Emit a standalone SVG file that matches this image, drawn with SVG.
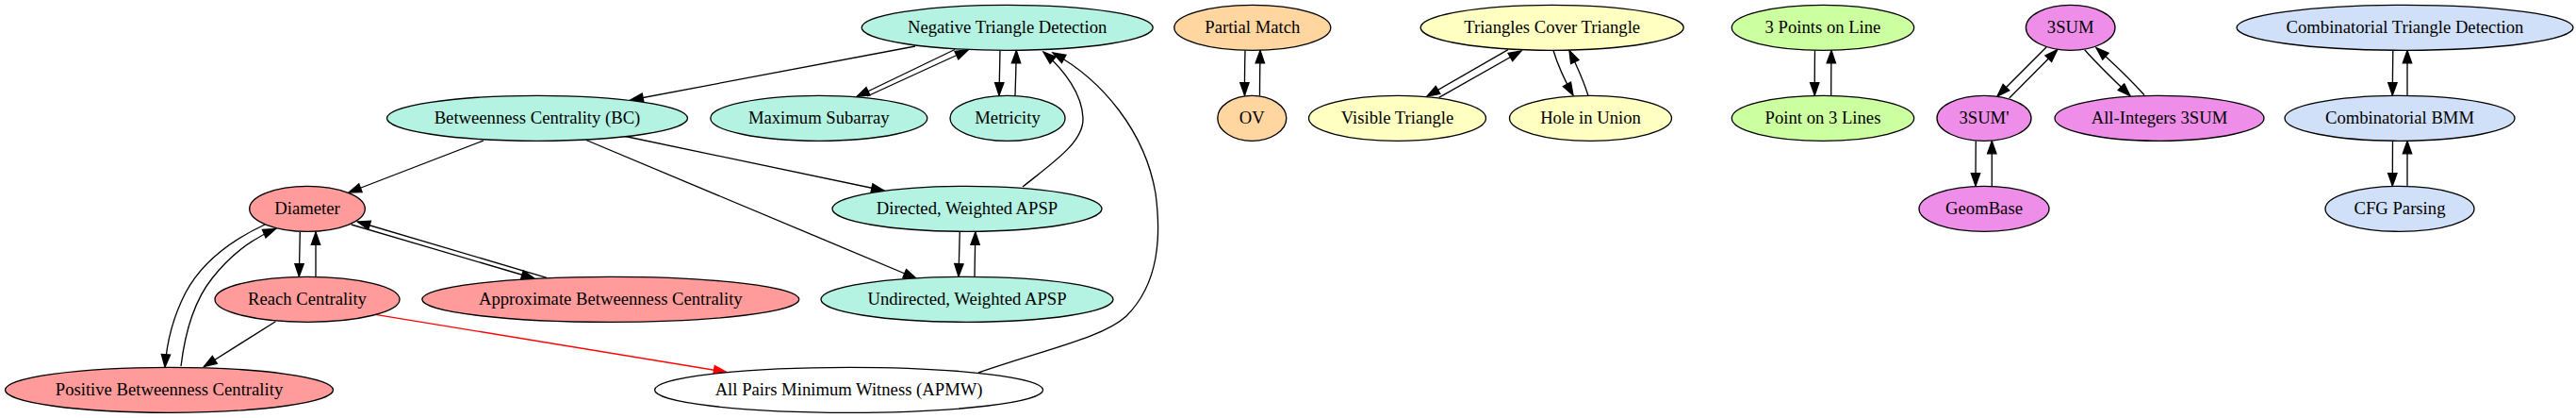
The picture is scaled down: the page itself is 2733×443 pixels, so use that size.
<svg xmlns="http://www.w3.org/2000/svg" width="2733" height="443" viewBox="0 0 2733 443">
<style>
.n ellipse{stroke:#000;stroke-width:1.33}
.n text{font-family:"Liberation Serif","Times New Roman",serif;font-size:18.67px;text-anchor:middle;fill:#000}
.teal ellipse{fill:#b4f2e1}
.pink ellipse{fill:#ff9b9b}
.orange ellipse{fill:#ffd5a0}
.yellow ellipse{fill:#ffffc2}
.green ellipse{fill:#ccff9f}
.violet ellipse{fill:#ee8ee8}
.blue ellipse{fill:#d0e0f9}
.white ellipse{fill:#fff}
.e path{fill:none;stroke:#000;stroke-width:1.33;marker-end:url(#ah)}
.e path.red{stroke:#ff0000;marker-end:url(#ahr)}
</style>
<defs>
<marker id="ah" markerUnits="userSpaceOnUse" markerWidth="16" markerHeight="12" refX="13.33" refY="4.67" orient="auto" overflow="visible">
<path d="M0,0 L13.33,4.67 L0,9.33 Z" fill="#000" stroke="#000" stroke-width="1.33"/>
</marker>
<marker id="ahr" markerUnits="userSpaceOnUse" markerWidth="16" markerHeight="12" refX="13.33" refY="4.67" orient="auto" overflow="visible">
<path d="M0,0 L13.33,4.67 L0,9.33 Z" fill="#ff0000" stroke="#ff0000" stroke-width="1.33"/>
</marker>
</defs>
<rect width="2733" height="443" fill="#fff"/>
<g id="edges" class="e">
<path d="M971,49 L669,106"/>
<path d="M1013,52.5 L909,102.5"/>
<path d="M920,102 L1027,53"/>
<path d="M1061,53.5 C1060.7,70 1060.3,85 1060,101"/>
<path d="M1077,101.5 C1077.5,85 1078,70 1078.3,53.5"/>
<path d="M1085,198 C1120,170 1150,150 1149,125 C1148,100 1130,75 1107,55"/>
<path d="M1038,395 C1110,370 1170,358 1195,335 C1230,300 1232,250 1226,205 C1215,140 1170,85 1117,56"/>
<path d="M661,144 L938,202"/>
<path d="M622,148.5 L972,295"/>
<path d="M1018.3,245.5 C1018,260 1017.5,275 1017,293"/>
<path d="M1034,293 C1034.3,278 1034.6,262 1034.8,246"/>
<path d="M513,149 L370,204"/>
<path d="M318.3,246 C318,260 317.6,276 317.3,293"/>
<path d="M335,293 C335,278 335,262 335,246"/>
<path d="M372.7,238 L566.7,295"/>
<path d="M580,294.3 L379.3,235"/>
<path d="M281,238 C238,258 212,282 197,310 C184,335 177,362 175,389"/>
<path d="M192,388 C196,355 205,320 225,295 C243,272 265,254 292.5,242.5"/>
<path d="M292.4,340.7 L216.5,388.5"/>
<path class="red" d="M398.3,333.3 L770.7,394.3"/>
<path d="M1321,53.5 C1320.6,70 1320.4,85 1320.5,101"/>
<path d="M1336.5,101.5 C1336.5,85 1336.8,70 1337,53.5"/>
<path d="M1600,52.7 L1514,102"/>
<path d="M1526.7,103.3 L1614,54"/>
<path d="M1648,53.5 C1653,70 1660,85 1669,101"/>
<path d="M1685,101.5 C1680,85 1673,70 1665,53.5"/>
<path d="M1925.5,53.5 C1925.3,70 1925.2,85 1925.3,101"/>
<path d="M1942.7,101.5 C1942.7,85 1942.8,70 1943,53.5"/>
<path d="M2171,50 L2119,102"/>
<path d="M2131.7,104 L2182.7,52.7"/>
<path d="M2211.7,52.7 C2225,68 2243,85 2260,101.5"/>
<path d="M2275,100.7 C2260,84 2241,66 2224,50.7"/>
<path d="M2096.3,149.5 C2096.1,165 2096,180 2096,197"/>
<path d="M2113.3,197.5 C2113.3,182 2113.3,166 2113.3,149.5"/>
<path d="M2538.8,53.5 C2538.6,70 2538.4,85 2538.3,101"/>
<path d="M2554,101.5 C2554,85 2554,70 2554,53.5"/>
<path d="M2538.5,149.5 C2538.4,165 2538.3,180 2538.3,197"/>
<path d="M2554,197.5 C2554,182 2554,166 2554,149.5"/>
</g>
<g id="n-ntd" class="n teal"><ellipse cx="1068.7" cy="29.3" rx="154.5" ry="24"/><text x="1068.7" y="34.9">Negative Triangle Detection</text></g>
<g id="n-pm" class="n orange"><ellipse cx="1328.8" cy="29.3" rx="83" ry="24"/><text x="1328.8" y="34.9">Partial Match</text></g>
<g id="n-tct" class="n yellow"><ellipse cx="1646.7" cy="29.3" rx="139.5" ry="24"/><text x="1646.7" y="34.9">Triangles Cover Triangle</text></g>
<g id="n-3pl" class="n green"><ellipse cx="1934" cy="29.3" rx="96.7" ry="24"/><text x="1934" y="34.9">3 Points on Line</text></g>
<g id="n-3sum" class="n violet"><ellipse cx="2196.7" cy="29.3" rx="47.3" ry="24"/><text x="2196.7" y="34.9">3SUM</text></g>
<g id="n-ctd" class="n blue"><ellipse cx="2551.5" cy="29.3" rx="178.5" ry="24"/><text x="2551.5" y="34.9">Combinatorial Triangle Detection</text></g>
<g id="n-bc" class="n teal"><ellipse cx="570" cy="125.3" rx="159.5" ry="24"/><text x="570" y="130.9">Betweenness Centrality (BC)</text></g>
<g id="n-ms" class="n teal"><ellipse cx="868.8" cy="125.3" rx="115" ry="24"/><text x="868.8" y="130.9">Maximum Subarray</text></g>
<g id="n-met" class="n teal"><ellipse cx="1069" cy="125.3" rx="61" ry="24"/><text x="1069" y="130.9">Metricity</text></g>
<g id="n-ov" class="n orange"><ellipse cx="1328.3" cy="125.3" rx="36.5" ry="24"/><text x="1328.3" y="130.9">OV</text></g>
<g id="n-vt" class="n yellow"><ellipse cx="1482.5" cy="125.3" rx="94" ry="24"/><text x="1482.5" y="130.9">Visible Triangle</text></g>
<g id="n-hu" class="n yellow"><ellipse cx="1687.5" cy="125.3" rx="86" ry="24"/><text x="1687.5" y="130.9">Hole in Union</text></g>
<g id="n-p3l" class="n green"><ellipse cx="1934" cy="125.3" rx="96.7" ry="24"/><text x="1934" y="130.9">Point on 3 Lines</text></g>
<g id="n-3sump" class="n violet"><ellipse cx="2105" cy="125.3" rx="50" ry="24"/><text x="2105" y="130.9">3SUM'</text></g>
<g id="n-ai3sum" class="n violet"><ellipse cx="2291" cy="125.3" rx="111" ry="24"/><text x="2291" y="130.9">All-Integers 3SUM</text></g>
<g id="n-cbmm" class="n blue"><ellipse cx="2546" cy="125.3" rx="122" ry="24"/><text x="2546" y="130.9">Combinatorial BMM</text></g>
<g id="n-dia" class="n pink"><ellipse cx="326" cy="221.3" rx="61.3" ry="24"/><text x="326" y="226.9">Diameter</text></g>
<g id="n-dwapsp" class="n teal"><ellipse cx="1026" cy="221.3" rx="143" ry="24"/><text x="1026" y="226.9">Directed, Weighted APSP</text></g>
<g id="n-geom" class="n violet"><ellipse cx="2105" cy="221.3" rx="69" ry="24"/><text x="2105" y="226.9">GeomBase</text></g>
<g id="n-cfg" class="n blue"><ellipse cx="2546" cy="221.3" rx="79" ry="24"/><text x="2546" y="226.9">CFG Parsing</text></g>
<g id="n-reach" class="n pink"><ellipse cx="326" cy="317.3" rx="98" ry="24"/><text x="326" y="322.9">Reach Centrality</text></g>
<g id="n-abc" class="n pink"><ellipse cx="647.8" cy="317.3" rx="200" ry="24"/><text x="647.8" y="322.9">Approximate Betweenness Centrality</text></g>
<g id="n-uwapsp" class="n teal"><ellipse cx="1026" cy="317.3" rx="155" ry="24"/><text x="1026" y="322.9">Undirected, Weighted APSP</text></g>
<g id="n-pbc" class="n pink"><ellipse cx="179.5" cy="413.3" rx="174" ry="24"/><text x="179.5" y="418.9">Positive Betweenness Centrality</text></g>
<g id="n-apmw" class="n white"><ellipse cx="900.6" cy="413.3" rx="206" ry="24"/><text x="900.6" y="418.9">All Pairs Minimum Witness (APMW)</text></g>
</svg>
